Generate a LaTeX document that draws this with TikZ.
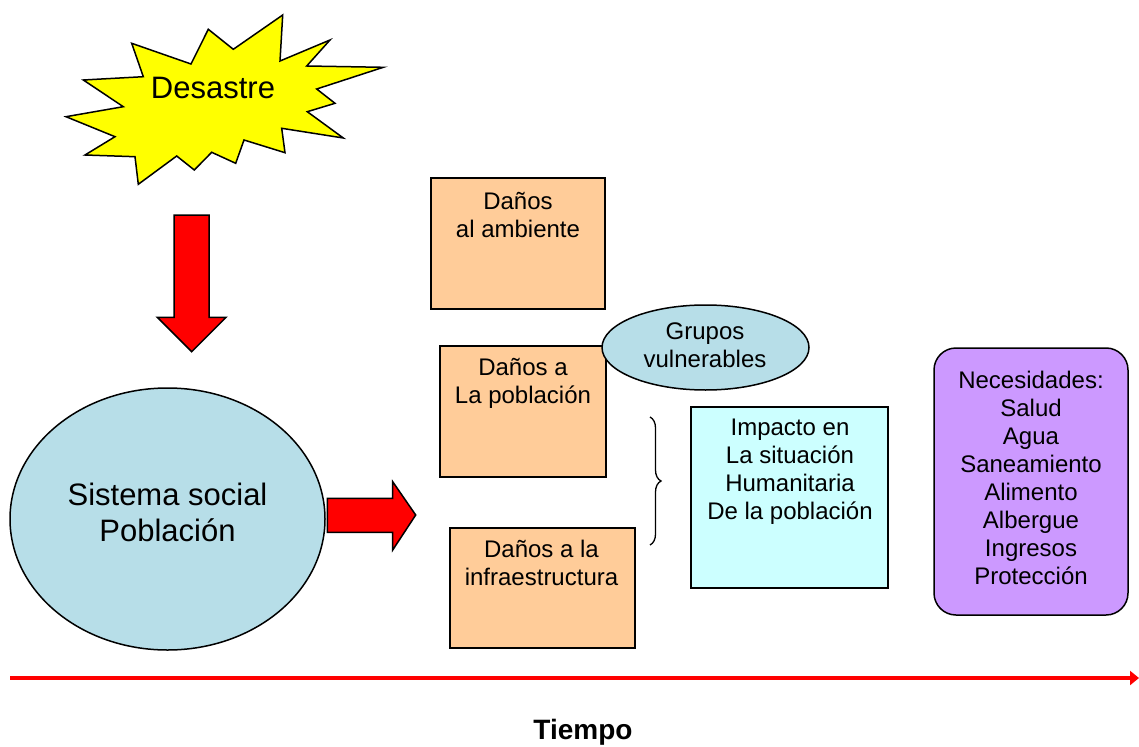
\documentclass[tikz,border=0pt]{standalone}
\usepackage{fontspec}
\setmainfont{Liberation Sans}
\usetikzlibrary{shapes.geometric,arrows.meta,decorations.pathreplacing}
\definecolor{peach}{HTML}{FFCC99}
\definecolor{lblue}{HTML}{B7DEE8}
\definecolor{lcyan}{HTML}{CCFFFF}
\definecolor{lpurple}{HTML}{CC99FF}
\definecolor{yel}{HTML}{FFFF00}
\definecolor{redc}{HTML}{FF0000}
\tikzset{
  box/.style={draw=black, line width=1.5pt, fill=peach, rectangle, inner sep=0pt},
  oval/.style={draw=black, line width=1.5pt, fill=lblue, ellipse, inner sep=0pt},
  txt/.style={align=center, inner sep=0pt, font=\fontsize{24}{28}\selectfont},
  bigtxt/.style={align=center, inner sep=0pt, font=\fontsize{31}{36}\selectfont},
  redarrow/.style={draw=black, line width=1.5pt, fill=redc, line join=miter},
}
\begin{document}
\begin{tikzpicture}[x=1pt,y=-1pt]
\useasboundingbox (0,0) rectangle (1139,746);
% starburst
\draw[draw=black, line width=1.5pt, fill=yel, line join=miter]
 (131.7,43.3) -- (191,64) -- (208.3,29.3) -- (233.3,49.3) -- (282.7,15) -- (280,61)
 -- (330,40) -- (306.7,66) -- (383.3,67.3) -- (316.7,89) -- (335,103.3) -- (307.3,111.7)
 -- (343.3,138) -- (281.7,128.3) -- (285,152.7) -- (244,140) -- (235.7,163.3) -- (211.7,152.3)
 -- (194.3,170) -- (176.7,156) -- (138.3,184.3) -- (135,156.7) -- (85,155) -- (115,136.7)
 -- (66,116.7) -- (123.3,106.7) -- (83.3,80) -- (143.3,76.7) -- cycle;
\node[bigtxt] (desastre) at (213,88) {Desastre};
% down arrow
\draw[redarrow] (174,215) -- (209,215) -- (209,317.3) -- (226,317.3) -- (191.7,351.7)
 -- (157.3,317.3) -- (174,317.3) -- cycle;
% ellipse sistema
\node[oval, minimum width=315pt, minimum height=262pt] (sistema) at (167.5,519) {};
\node[bigtxt] (sistemat) at (167.5,512) {Sistema social\\Población};
% right arrow
\draw[redarrow] (327.3,498.3) -- (392.7,498.3) -- (392.7,481.7) -- (415.7,515)
 -- (392.7,550) -- (392.7,532.3) -- (327.3,532.3) -- cycle;
% boxes
\node[box, minimum width=174pt, minimum height=131pt] (amb) at (518,243.5) {};
\node[txt] (ambt) at (518,215) {Daños\\al ambiente};
\node[box, minimum width=166pt, minimum height=131pt] (pob) at (523,411.5) {};
\node[txt] (pobt) at (523,383.5) {Daños a\\La población};
\node[box, minimum width=185pt, minimum height=120pt] (inf) at (542.5,588) {};
\node[txt] (inft) at (541.5,563) {Daños a la\\infraestructura};
% grupos vulnerables
\node[oval, minimum width=207pt, minimum height=85pt] (grupos) at (705.5,347.5) {};
\node[txt] (grupost) at (705,345.5) {Grupos\\vulnerables};
% brace
\draw[line width=1.3pt, decorate, decoration={brace, amplitude=11pt, aspect=0.5}]
 (650,417) coordinate (b1) -- (650,545) coordinate (b2);
% impacto
\node[draw=black, line width=1.5pt, fill=lcyan, minimum width=197pt, minimum height=181pt, inner sep=0pt] (imp) at (789.5,497.5) {};
\node[txt] (impt) at (790,472) {Impacto en\\La situación\\Humanitaria\\De la población};
% necesidades
\node[draw=black, line width=1.5pt, fill=lpurple, rounded corners=22pt, minimum width=194pt, minimum height=267pt, inner sep=0pt] (nec) at (1031,481.5) {};
\node[txt] (nect) at (1031,477.5) {Necesidades:\\Salud\\Agua\\Saneamiento\\Alimento\\Albergue\\Ingresos\\Protección};
% timeline
\coordinate (t1) at (10,678);
\coordinate (t2) at (1139,678);
\draw[redc, line width=3.5pt, -{Triangle[length=9pt,width=14pt]}] (t1) -- (t2);
\node[inner sep=0pt, font=\fontsize{28}{32}\selectfont\bfseries] (tiempo) at (583,732) {Tiempo};
\end{tikzpicture}
\end{document}
